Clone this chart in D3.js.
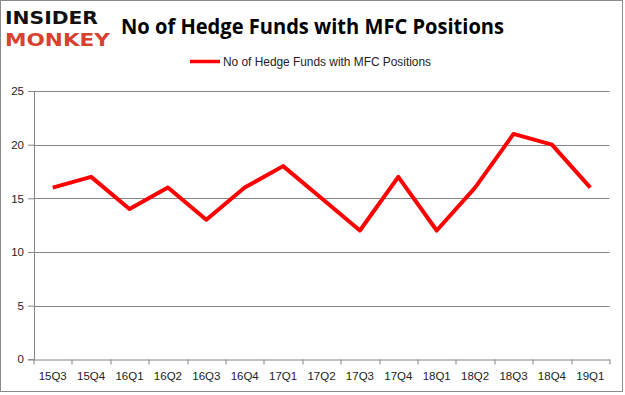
<!DOCTYPE html>
<html>
<head>
<meta charset="utf-8">
<script src="https://cdn.jsdelivr.net/npm/d3@7"></script>
<style>
  body { margin: 0; background: #fff; }
  svg { display: block; }
</style>
</head>
<body>
<div id="chart"></div>
<script>
// quarters and fund counts
var quarters = ["15Q3","15Q4","16Q1","16Q2","16Q3","16Q4","17Q1","17Q2","17Q3","17Q4","18Q1","18Q2","18Q3","18Q4","19Q1"];
var funds = [16,17,14,16,13,16,18,15,12,17,12,16,21,20,16];
var yTicks = [0,5,10,15,20,25];
var seriesName = "No of Hedge Funds with MFC Positions";

var W = 625, H = 395;
var margin = {top: 91, right: 15, bottom: 36, left: 33.5};
var width = 609.5 - margin.left,
    height = 359.3 - margin.top;

var svg = d3.select("#chart")
  .append("svg")
    .attr("width", W)
    .attr("height", H);

// outer frame
svg.append("rect")
  .attr("x", 0.5).attr("y", 0.5)
  .attr("width", 622).attr("height", 391)
  .attr("fill", "#fff")
  .attr("stroke", "#8a8a8a")
  .attr("stroke-width", 1);

// logo
svg.append("text")
  .attr("x", 5).attr("y", 24)
  .attr("font-family", "DejaVu Sans")
  .attr("font-weight", "bold")
  .attr("font-size", 18)
  .attr("textLength", 93)
  .attr("lengthAdjust", "spacingAndGlyphs")
  .attr("fill", "#111")
  .text("INSIDER");
svg.append("text")
  .attr("x", 5).attr("y", 46)
  .attr("font-family", "DejaVu Sans")
  .attr("font-weight", "bold")
  .attr("font-size", 18)
  .attr("textLength", 105)
  .attr("lengthAdjust", "spacingAndGlyphs")
  .attr("fill", "#d8412f")
  .text("MONKEY");

// title
svg.append("text")
  .attr("x", 121).attr("y", 34)
  .attr("font-family", "Open Sans, Liberation Sans, sans-serif")
  .attr("font-weight", "bold")
  .attr("font-size", 21)
  .attr("textLength", 383)
  .attr("lengthAdjust", "spacingAndGlyphs")
  .attr("fill", "#000")
  .text(seriesName);

// legend
svg.append("line")
  .attr("x1", 190).attr("x2", 220)
  .attr("y1", 61.5).attr("y2", 61.5)
  .attr("stroke", "#ff0000")
  .attr("stroke-width", 3.5);
svg.append("text")
  .attr("x", 223).attr("y", 66)
  .attr("font-family", "Liberation Sans, sans-serif")
  .attr("font-size", 12)
  .attr("textLength", 208)
  .attr("lengthAdjust", "spacingAndGlyphs")
  .attr("fill", "#222")
  .text(seriesName);

var g = svg.append("g")
  .attr("transform", "translate(" + margin.left + "," + margin.top + ")");

var x = d3.scaleBand()
  .domain(quarters)
  .range([0, width]);

var y = d3.scaleLinear()
  .domain([0, 25])
  .range([height, 0]);

// gridlines
g.selectAll(".grid")
  .data(yTicks.slice(1))
  .enter().append("line")
    .attr("x1", 0).attr("x2", width)
    .attr("y1", function(d) { return Math.round(y(d)) + 0.5; })
    .attr("y2", function(d) { return Math.round(y(d)) + 0.5; })
    .attr("stroke", "#868686")
    .attr("stroke-width", 1);

// Y axis
var yAxis = g.append("g")
  .attr("transform", "translate(0.5,0)")
  .call(d3.axisLeft(y).tickValues(yTicks).tickSize(6).tickPadding(4));
yAxis.selectAll("text")
  .attr("font-family", "Liberation Sans, sans-serif")
  .attr("font-size", 11.5)
  .attr("fill", "#222");

// X axis
var xAxis = g.append("g")
  .attr("transform", "translate(0," + (Math.round(height) + 0.5) + ")")
  .call(d3.axisBottom(x).tickSize(0).tickPadding(12));
xAxis.selectAll("text")
  .attr("font-family", "Liberation Sans, sans-serif")
  .attr("font-size", 11.5)
  .attr("fill", "#222");
// category boundary ticks
xAxis.selectAll(".bound")
  .data(d3.range(quarters.length + 1))
  .enter().append("line")
    .attr("x1", function(i) { return Math.round(i * x.step()) + 0.5; })
    .attr("x2", function(i) { return Math.round(i * x.step()) + 0.5; })
    .attr("y1", 0).attr("y2", 5)
    .attr("stroke", "#868686");

svg.selectAll(".domain, .tick line").attr("stroke", "#868686");

// the line
g.append("path")
  .datum(funds)
  .attr("fill", "none")
  .attr("stroke", "#ff0000")
  .attr("stroke-width", 4)
  .attr("stroke-linejoin", "round")
  .attr("d", d3.line()
    .x(function(d, i) { return x(quarters[i]) + x.bandwidth() / 2; })
    .y(function(d) { return y(d); })
  );
</script>
</body>
</html>
